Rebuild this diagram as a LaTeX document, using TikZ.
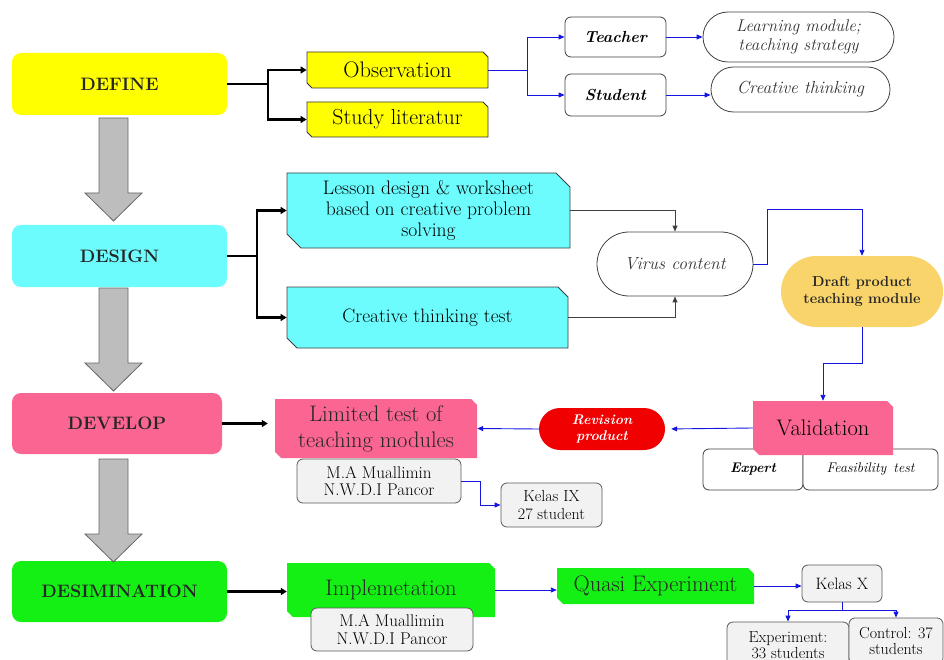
\documentclass[tikz,border=0pt]{standalone}
\usetikzlibrary{shapes.misc,arrows.meta,calc}
\definecolor{cyellow}{HTML}{FFFF00}
\definecolor{ccyan}{HTML}{6CFCFD}
\definecolor{cpink}{HTML}{FA6691}
\definecolor{cgreen}{HTML}{14F014}
\definecolor{cgold}{HTML}{F9D46B}
\definecolor{cred}{HTML}{F00000}
\definecolor{cgraybox}{HTML}{F2F2F2}
\definecolor{carrow}{HTML}{BDBDBD}
\definecolor{cblue}{HTML}{1515E0}
\newcommand{\fs}[1]{\fontsize{#1}{\the\dimexpr #1pt*23/20\relax}\selectfont}
\tikzset{
  phase/.style={rectangle, rounded corners=9pt, inner sep=0pt, font=\fs{18}\bfseries, text=black!85},
  cutbox/.style={chamfered rectangle, chamfered rectangle corners={north east,south west}, chamfered rectangle sep=#1, inner sep=0pt, align=center},
  roundbox/.style={rectangle, rounded corners=6pt, draw=black!75, line width=0.8pt, fill=white, inner sep=0pt, align=center},
  graybox/.style={rectangle, rounded corners=6pt, draw=black!65, line width=0.8pt, fill=cgraybox, inner sep=0pt, align=center, font=\fs{16.5}},
  stadium/.style={rounded rectangle, inner sep=0pt, align=center},
  thickarr/.style={line width=2.2pt, -{Triangle[length=6pt,width=7pt]}},
  bluearr/.style={draw=cblue, line width=0.9pt, -{Triangle[length=6pt,width=5pt]}},
  blackarr/.style={draw=black!75, line width=0.9pt, -{Triangle[length=6pt,width=5pt]}},
  bigarrow/.style={fill=carrow, draw=black!60, line width=0.8pt},
}
\begin{document}
\begin{tikzpicture}[x=1pt,y=-1pt]
\useasboundingbox (0,0) rectangle (944,660);
\clip (0,0) rectangle (944,660);
% phases
\node[phase, fill=cyellow, minimum width=215, minimum height=62] (def) at (119.5,84) {DEFINE};
\node[phase, fill=ccyan, minimum width=215, minimum height=62] (des) at (119.5,256) {DESIGN};
\node[phase, fill=cpink, minimum width=210, minimum height=61] (dev) at (117,423.5) {DEVELOP};
\node[phase, fill=cgreen, minimum width=215, minimum height=61] (dis) at (119.5,591.5) {DESIMINATION};
% big gray arrows
\foreach \ya/\yb in {118/221, 288/391, 459/562}{
  \draw[bigarrow] (99,\ya) -- (99,\yb-28) -- (85,\yb-28) -- (113.5,\yb) -- (142,\yb-28) -- (128,\yb-28) -- (128,\ya) -- cycle;
}
% DEFINE branch
\node[cutbox=2.5pt, fill=cyellow, draw=black!80, line width=0.8pt, minimum width=181, minimum height=36, font=\fs{22.5}] (obs) at (397.5,70) {Observation};
\node[cutbox=2.5pt, fill=cyellow, draw=black!80, line width=0.8pt, minimum width=181, minimum height=35, font=\fs{21.8}] (stl) at (397.5,119.5) {Study literatur};
\node[roundbox, minimum width=101, minimum height=40, font=\fs{16}\bfseries\itshape] (tea) at (615.5,37) {Teacher};
\node[roundbox, minimum width=101, minimum height=42, font=\fs{16}\bfseries\itshape] (stu) at (615.5,95) {Student};
\node[stadium, draw=black!75, line width=0.8pt, minimum width=191, minimum height=50, font=\fs{17}\itshape, text=black!80] (lrn) at (798.5,37) {Learning module;\\[-1pt]teaching strategy};
\node[stadium, draw=black!75, line width=0.8pt, minimum width=179, minimum height=45, font=\fs{17.5}\itshape, text=black!80] (crt) at (800.5,89.5) {Creative thinking};
\draw[thickarr] (def.east) -- ++(41,0) |- (obs.west);
\draw[thickarr] (def.east) -- ++(41,0) |- (stl.west);
\draw[bluearr] (obs.east) -- ++(39,0) |- (tea.west);
\draw[bluearr] (obs.east) -- ++(39,0) |- (stu.west);
\draw[bluearr] (tea.east) -- (lrn.west);
\draw[bluearr] (stu.east) -- (stu.east -| crt.west);
% DESIGN branch
\node[cutbox=7pt, fill=ccyan, draw=black!75, line width=0.8pt, minimum width=283, minimum height=75, font=\fs{19.6}] (les) at (428.5,210.5) {Lesson design \& worksheet\\[-1.5pt]based on creative problem\\[-1.5pt]solving};
\node[cutbox=5pt, fill=ccyan, draw=black!75, line width=0.8pt, minimum width=281, minimum height=61, font=\fs{19.4}] (ctt) at (427.5,317.5) {Creative thinking test};
\node[stadium, draw=black!75, line width=0.8pt, minimum width=156, minimum height=64, font=\fs{17.5}\itshape, text=black!80] (vir) at (675,264) {Virus content};
\node[stadium, fill=cgold, minimum width=162, minimum height=71, font=\fs{14.5}\bfseries, text=black!85] (drf) at (862,291.5) {Draft product\\teaching module};
\draw[thickarr] (des.east) -- ++(30,0) |- (les.west);
\draw[thickarr] (des.east) -- ++(30,0) |- (ctt.west);
\draw[blackarr] (les.east) -| (vir.north);
\draw[blackarr] (ctt.east) -| (vir.south);
\draw[bluearr] (vir.east) -- ++(14,0) -- ++(0,-55) -| (drf.north);
% DEVELOP branch
\node[roundbox, minimum width=100, minimum height=41, font=\fs{14}\bfseries\itshape] (exp) at (753,469.5) {Expert};
\node[roundbox, minimum width=135, minimum height=41, font=\fs{14}\itshape] (fea) at (870.5,469.5) {Feasibility\, test};
\node[cutbox=3pt, fill=cpink, minimum width=140, minimum height=54, font=\fs{22.5}] (val) at (823,428) {Validation};
\node[stadium, fill=cred, minimum width=126, minimum height=42, font=\fs{14}\bfseries\itshape, text=white] (rev) at (602,429) {Revision\\product};
\node[cutbox=3pt, fill=cpink, minimum width=202, minimum height=59, font=\fs{22.5}, text=black!85] (lim) at (376,428.5) {Limited test of\\teaching modules};
\node[graybox, minimum width=164, minimum height=44, font=\fs{17}] (mua1) at (379,481) {M.A Muallimin\\[-2pt]N.W.D.I Pancor};
\node[graybox, minimum width=101, minimum height=44, font=\fs{16}] (kix) at (551.5,505) {Kelas IX\\[-1pt]27 student};
\draw[bluearr] (drf.south) -- ++(0,36) -| (val.north);
\draw[bluearr, shorten >=6pt] (val.west) -- (rev.east);
\draw[bluearr] (rev.west) -- (lim.east);
\draw[thickarr, shorten >=7pt] (dev.east) -- (dev.east -| lim.west);
\draw[bluearr] (mua1.east) -- ++(19,0) |- (kix.west);
% DESIMINATION branch
\node[cutbox=3pt, fill=cgreen, minimum width=208, minimum height=54, font=\fs{22.5}, text=black!85] (imp) at (391,590) {Implemetation};
\node[graybox, minimum width=162, minimum height=43, font=\fs{17}] (mua2) at (392,629.5) {M.A Muallimin\\[-2pt]N.W.D.I Pancor};
\node[cutbox=3pt, fill=cgreen, minimum width=197, minimum height=36, font=\fs{22.5}, text=black!85] (qua) at (655.5,586) {Quasi Experiment};
\node[graybox, minimum width=80, minimum height=37] (kx) at (842,583.5) {Kelas X};
\node[graybox, minimum width=122, minimum height=46, font=\fs{16}] (exm) at (788,645) {Experiment:\\[-2pt]33 students};
\node[graybox, minimum width=94, minimum height=46, font=\fs{16}] (ctl) at (896,641) {Control: 37\\[-2pt]students};
\draw[thickarr] (dis.east) -- (dis.east -| imp.west);
\draw[bluearr] (imp.east) -- (imp.east -| qua.west);
\draw[bluearr] (qua.east) -- (qua.east -| kx.west);
\draw[bluearr] (kx.south) -- ++(0,8) -| (exm.north);
\draw[bluearr] (kx.south) -- ++(0,8) -| (ctl.north);
\end{tikzpicture}
\end{document}
